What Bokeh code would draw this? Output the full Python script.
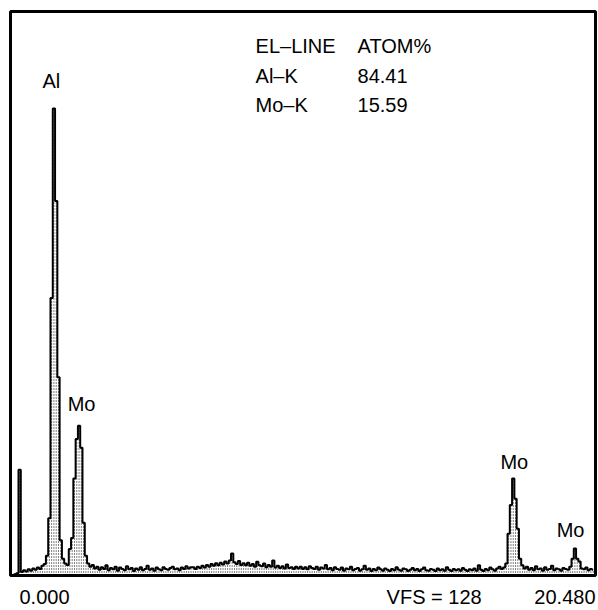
from bokeh.plotting import figure
from bokeh.models import Range1d, Label, ColumnDataSource, LinearAxis, FixedTicker
from bokeh.embed import file_html
from bokeh.resources import INLINE

# Energy axis: 0.000 .. 20.480 keV, channel width 0.08 keV ; vertical full scale VFS = 128
E_MIN, E_MAX = 0.0, 20.48
VFS = 128
CH_WIDTH = 0.08

counts = [
    0.0, 0.0, 0.3, 0.5, 24.0, 0.8, 1.2, 0.9, 1.4, 1.1,
    1.6, 1.3, 1.8, 1.5, 2.2, 2.6, 4.5, 13.0, 63.0, 106.0,
    85.0, 45.0, 8.0, 3.8, 2.7, 2.4, 6.0, 8.5, 22.0, 31.0,
    34.0, 29.0, 12.0, 4.5, 2.7, 2.0, 2.4, 1.6, 2.0, 1.3,
    1.9, 1.5, 2.3, 1.2, 1.7, 1.4, 2.0, 1.1, 1.8, 1.5,
    1.2, 2.1, 1.4, 1.7, 1.0, 1.6, 1.3, 1.9, 1.2, 1.5,
    2.2, 1.3, 1.6, 1.1, 1.8, 1.4, 1.2, 1.9, 1.5, 1.3,
    1.7, 2.0, 1.4, 1.6, 1.2, 1.8, 1.5, 2.1, 1.6, 1.9,
    1.9, 1.5, 2.0, 1.7, 2.2, 1.8, 2.4, 2.0, 2.6, 2.2,
    2.8, 2.3, 2.9, 2.5, 3.2, 2.7, 3.4, 5.0, 3.0, 2.6,
    3.3, 2.4, 2.8, 2.3, 2.9, 2.2, 2.6, 2.0, 3.1, 2.3,
    2.1, 2.7, 1.9, 2.4, 2.0, 3.4, 1.8, 2.2, 1.7, 2.1,
    1.6, 2.5, 1.7, 1.9, 1.5, 2.0, 1.6, 2.0, 1.5, 1.9,
    1.4, 2.1, 1.7, 1.5, 2.0, 1.3, 1.8, 1.6, 2.4, 1.4,
    1.7, 1.2, 1.9, 1.5, 1.3, 1.8, 1.1, 1.6, 1.4, 2.0,
    1.2, 1.5, 1.7, 1.1, 1.4, 2.2, 1.3, 1.6, 1.0, 1.5,
    1.2, 1.8, 1.4, 1.1, 1.6, 1.3, 1.0, 1.5, 1.2, 1.9,
    1.3, 1.1, 1.6, 1.4, 1.0, 1.3, 1.7, 1.2, 1.5, 1.0,
    1.4, 1.8, 1.2, 1.1, 1.5, 1.3, 1.0, 1.6, 1.2, 1.4,
    1.1, 1.9, 1.3, 1.0, 1.5, 1.2, 1.4, 1.1, 1.7, 1.3,
    1.0, 1.4, 1.2, 1.6, 1.1, 2.3, 1.3, 1.0, 1.5, 1.2,
    1.8, 1.4, 1.1, 1.6, 2.0, 1.5, 1.8, 2.7, 9.5, 16.0,
    22.0, 17.4, 10.6, 3.8, 2.3, 1.6, 2.0, 1.3, 1.7, 1.2,
    2.1, 1.4, 1.6, 1.1, 1.9, 1.3, 1.5, 2.2, 1.2, 1.6,
    1.4, 1.1, 1.7, 1.5, 1.3, 2.0, 3.8, 6.1, 3.8, 3.2,
    1.6, 1.4, 1.8, 1.2, 1.5, 1.3,
]
energies = [round(i * CH_WIDTH, 2) for i in range(len(counts))]

# Peak labels (element, energy keV, label height in counts)
peak_labels = ["Al", "Mo", "Mo", "Mo"]
peak_label_e = [1.12, 2.0, 17.15, 19.12]
peak_label_c = [112.2, 38.9, 25.8, 10.4]

# Quantification table
table_head = ["EL\u2013LINE", "ATOM%"]
table_lines = ["Al\u2013K", "Mo\u2013K"]
table_values = ["84.41", "15.59"]

# Footer texts below the spectrum (centre energy of each text)
footer_pos = [1.19, 14.83, 19.41]
footer_text = ["%.3f" % E_MIN, "VFS = %d" % VFS, "%.3f" % E_MAX]

FONT = "Liberation Sans"
FS = "20px"

p = figure(width=597, height=610, output_backend="svg", toolbar_location=None,
           x_range=Range1d(E_MIN, E_MAX), y_range=Range1d(0, VFS),
           x_axis_type=None, y_axis_type=None,
           min_border_left=10, min_border_right=2, min_border_top=11, min_border_bottom=33)
p.grid.visible = False
p.outline_line_color = "black"
p.outline_line_width = 3
p.background_fill_color = "white"
p.border_fill_color = "white"

src = ColumnDataSource(dict(x=energies, y=counts, y0=[0.0] * len(counts)))
# dotted channel markers under the spectrum
p.segment(x0="x", y0="y0", x1="x", y1="y", source=src, line_color="black",
          line_width=1, line_dash="1 2")
# spectrum outline
p.step(x="x", y="y", source=src, mode="center", line_color="black", line_width=2)

for t, e, c in zip(peak_labels, peak_label_e, peak_label_c):
    p.add_layout(Label(x=e, y=c, text=t, text_font=FONT, text_font_size=FS,
                       text_baseline="alphabetic", text_color="black"))

head_y = [120.1, 113.3, 106.8]
col_x = [8.58, 12.15]
rows = [table_head] + [[a, b] for a, b in zip(table_lines, table_values)]
for r, yy in zip(rows, head_y):
    for t, xx in zip(r, col_x):
        p.add_layout(Label(x=xx, y=yy, text=t, text_font=FONT, text_font_size=FS,
                           text_baseline="alphabetic", text_color="black"))

ax = LinearAxis(ticker=FixedTicker(ticks=footer_pos),
                major_label_overrides={k: v for k, v in zip(footer_pos, footer_text)})
ax.axis_line_color = None
ax.major_tick_line_color = None
ax.minor_tick_line_color = None
ax.major_tick_in = 0
ax.major_tick_out = 0
ax.major_label_standoff = 10
ax.major_label_text_font = FONT
ax.major_label_text_font_size = FS
ax.major_label_text_color = "black"
p.add_layout(ax, "below")

open("out.html", "w").write(file_html(p, INLINE))
